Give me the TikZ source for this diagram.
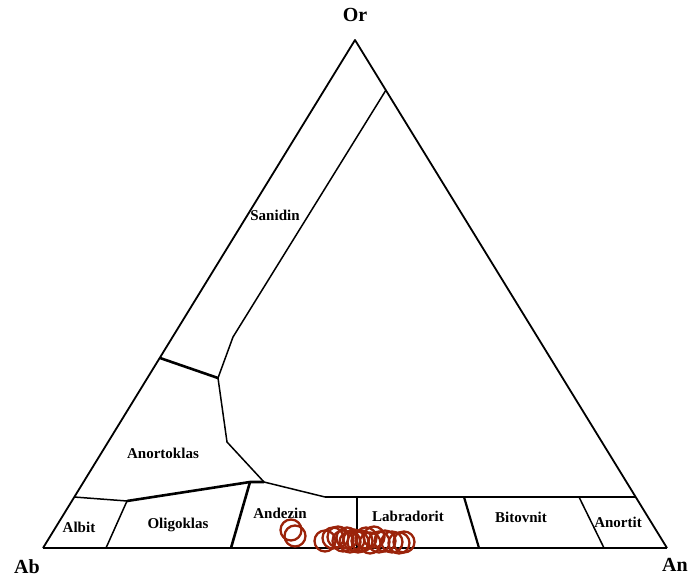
\documentclass[tikz,border=0pt]{standalone}
\usepackage{fontspec}
\setmainfont{Liberation Serif}
\definecolor{punkt}{RGB}{155,35,10}

\begin{document}
\begin{tikzpicture}[x=1pt,y=-1pt,line join=round,
	feld/.style={font=\bfseries\fontsize{15}{18}\selectfont},
	ecke/.style={font=\bfseries\fontsize{20}{24}\selectfont},
	duenn/.style={draw,line width=1.5pt},
	dick/.style={draw,line width=2.6pt},
	probe/.style={draw=punkt,line width=2.3pt}]
	\useasboundingbox (0,0) rectangle (692,577);
	% Eckpunkte
	\coordinate (or) at (355,40);
	\coordinate (ab) at (43,548);
	\coordinate (an) at (667,548);
	% Grenzpunkte
	\coordinate (s1) at (386,90);
	\coordinate (s2) at (233,337);
	\coordinate (s3) at (218,378);
	\coordinate (s4) at (227,442);
	\coordinate (s5) at (264,482);
	\coordinate (s6) at (325,497);
	\coordinate (s7) at (636,497);
	\coordinate (a1) at (160,358);
	\coordinate (a2) at (250,482);
	\coordinate (a3) at (127,501);
	\coordinate (a4) at (74,497);
	\coordinate (b1) at (231,548);
	\coordinate (b2) at (106,548);
	\coordinate (c1) at (357,497);
	\coordinate (c2) at (357,548);
	\coordinate (d1) at (464,497);
	\coordinate (d2) at (479,548);
	\coordinate (e1) at (579,497);
	\coordinate (e2) at (604,548);

	\draw[line width=1.8pt] (ab) -- (or) -- (an);
	\draw[line width=2.4pt] (ab) -- (an);
	\path[duenn] (s1) -- (s2) -- (s3) -- (s4) -- (s5) -- (s6);
	\path[dick] (s6) -- (s7);
	\path[dick] (a1) -- (s3);
	\path[dick] (s5) -- (a2) -- (a3);
	\path[duenn] (a3) -- (a4);
	\path[duenn] (a3) -- (b2);
	\path[dick] (a2) -- (b1);
	\path[dick] (c1) -- (c2);
	\path[line width=2.2pt,draw] (d1) -- (d2);
	\path[duenn] (e1) -- (e2);

	\node[ecke] (n-or) at (355,15) {Or};
	\node[ecke] (n-ab) at (27,567) {Ab};
	\node[ecke] (n-an) at (675,565) {An};

	\node[feld] (sanidin) at (275,215) {Sanidin};
	\node[feld] (anortoklas) at (163,453) {Anortoklas};
	\node[feld] (albit) at (79,527) {Albit};
	\node[feld] (oligoklas) at (178,525) {Oligoklas};
	\node[feld] (andezin) at (280,513) {Andezin};
	\node[feld] (labradorit) at (408,516) {Labradorit};
	\node[feld] (bitovnit) at (521,517) {Bitovnit};
	\node[feld] (anortit) at (618,522) {Anortit};

	% Analysen
	\foreach \x/\y in {291/530,295/536,325/541,333/538,338/537,343/541,347/538,
		350/542,354/540,358/542,362/541,366/538,370/543,374/537,379/542,
		385/541,392/542,399/543,404/542}
		\path[probe] (\x,\y) circle[radius=10.5pt];
\end{tikzpicture}
\end{document}
